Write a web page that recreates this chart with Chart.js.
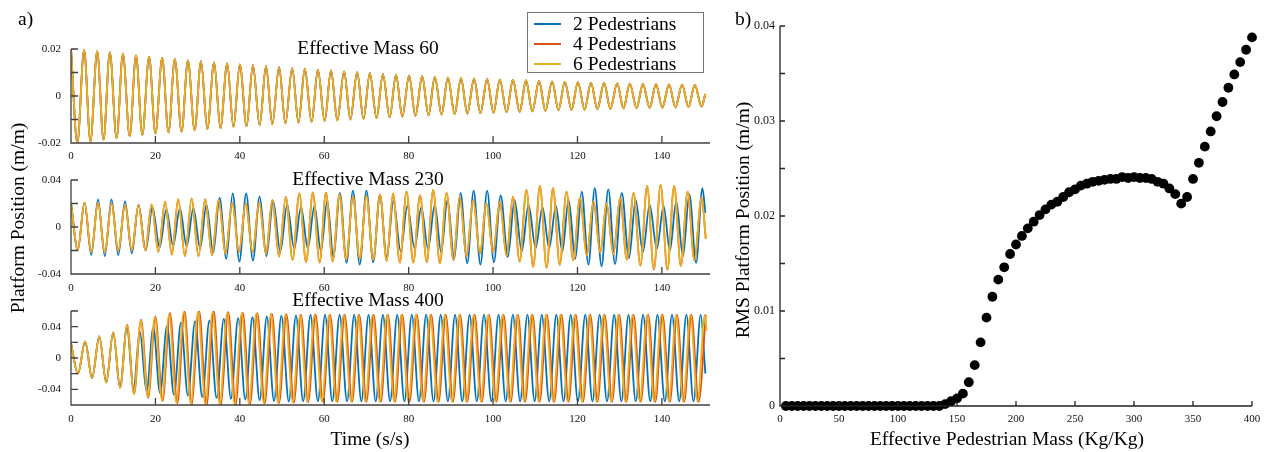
<!DOCTYPE html>
<html>
<head>
<meta charset="utf-8">
<script src="https://cdn.jsdelivr.net/npm/chart.js@4.4.0/dist/chart.umd.min.js"></script>
<style>
  body { margin: 0; background: #fff; }
  #wrap { position: relative; width: 1268px; height: 452px; font-family: "Liberation Serif", "Times New Roman", serif; color: #000; }
  #wrap canvas { position: absolute; left: 0; top: 0; }
  .txt { position: absolute; white-space: nowrap; line-height: 1; font-size: 19.5px; }
  .mid { transform: translateX(-50%); }
  .rot { transform: translate(-50%, -50%) rotate(-90deg); }
  #legend { position: absolute; left: 527px; top: 12px; width: 177px; height: 61px; box-sizing: border-box; border: 1.5px solid #777; background: #fff; }
  .swatch { position: absolute; left: 534px; width: 27px; height: 2px; }
  .ltxt { position: absolute; left: 573px; font-size: 19.5px; line-height: 1; white-space: nowrap; }
</style>
</head>
<body>
<div id="wrap">
  <canvas id="m60" width="1268" height="452"></canvas>
  <canvas id="m230" width="1268" height="452"></canvas>
  <canvas id="m400" width="1268" height="452"></canvas>
  <canvas id="rms" width="1268" height="452"></canvas>

  <div class="txt" style="left:18px;top:8.7px;">a)</div>
  <div class="txt" style="left:735px;top:8.7px;">b)</div>
  <div class="txt mid" style="left:368px;top:37.7px;">Effective Mass 60</div>
  <div class="txt mid" style="left:368px;top:168.7px;">Effective Mass 230</div>
  <div class="txt mid" style="left:368px;top:290.2px;">Effective Mass 400</div>
  <div class="txt mid" style="left:370px;top:428.7px;">Time (s/s)</div>
  <div class="txt mid" style="left:1007px;top:429.4px;">Effective Pedestrian Mass (Kg/Kg)</div>
  <div class="txt rot" style="left:18px;top:218px;">Platform Position (m/m)</div>
  <div class="txt rot" style="left:743px;top:220px;">RMS Platform Position (m/m)</div>

  <div id="legend"></div>
  <div class="swatch" style="top:23px;background:#0072BD;"></div>
  <div class="swatch" style="top:43px;background:#D95319;"></div>
  <div class="swatch" style="top:63px;background:#EDB120;"></div>
  <div class="ltxt" style="top:13.7px;">2 Pedestrians</div>
  <div class="ltxt" style="top:33.7px;">4 Pedestrians</div>
  <div class="ltxt" style="top:53.7px;">6 Pedestrians</div>
</div>

<script>
// ---- data: platform position extrema [time s, position m/m] ----

// effective mass 60: all three pedestrian cases coincide
const mass60 = [[0,.0200],[1.5,-.0200],[3.1,.0196],[4.6,-.0194],[6.2,.0191],[7.7,-.0186],[9.2,.0187],[10.8,-.0180],
  [12.3,.0180],[13.9,-.0172],[15.4,.0173],[16.9,-.0165],[18.5,.0167],[20.0,-.0159],[21.6,.0162],[23.1,-.0155],
  [24.6,.0157],[26.2,-.0151],[27.7,.0152],[29.3,-.0146],[30.8,.0148],[32.3,-.0141],[33.9,.0143],[35.4,-.0137],
  [37.0,.0139],[38.5,-.0133],[40.0,.0135],[41.6,-.0129],[43.1,.0131],[44.7,-.0125],[46.2,.0127],[47.7,-.0121],
  [49.3,.0123],[50.8,-.0117],[52.4,.0119],[53.9,-.0114],[55.4,.0116],[57.0,-.0111],[58.5,.0112],[60.1,-.0107],
  [61.6,.0109],[63.1,-.0104],[64.7,.0105],[66.2,-.0100],[67.8,.0101],[69.3,-.0097],[70.8,.0097],[72.4,-.0094],
  [73.9,.0093],[75.5,-.0091],[77.0,.0090],[78.5,-.0088],[80.1,.0087],[81.6,-.0085],[83.2,.0084],[84.7,-.0082],
  [86.2,.0081],[87.8,-.0079],[89.3,.0078],[90.9,-.0077],[92.4,.0076],[93.9,-.0075],[95.5,.0074],[97.0,-.0073],
  [98.6,.0072],[100.1,-.0071],[101.6,.0070],[103.2,-.0069],[104.7,.0068],[106.3,-.0067],[107.8,.0066],[109.3,-.0065],
  [110.9,.0064],[112.4,-.0063],[114.0,.0062],[115.5,-.0061],[117.0,.0060],[118.6,-.0059],[120.1,.0059],[121.7,-.0058],
  [123.2,.0057],[124.7,-.0056],[126.3,.0056],[127.8,-.0055],[129.4,.0054],[130.9,-.0053],[132.4,.0053],[134.0,-.0052],
  [135.5,.0051],[137.1,-.0050],[138.6,.0050],[140.1,-.0049],[141.7,.0049],[143.2,-.0048],[144.8,.0048],[146.3,-.0047],
  [147.8,.0047],[149.4,-.0045],[150.3,.0009]];

// effective mass 230: 4 and 6 pedestrians overlap, 2 pedestrians beats against them
const mass230ped4 = [[0,.0200],[1.6,-.0196],[3.2,.0207],[4.8,-.0215],[6.4,.0207],[8.0,-.0218],[9.6,.0202],[11.2,-.0205],
  [12.8,.0190],[14.4,-.0197],[16.0,.0187],[17.6,-.0198],[19.1,.0193],[20.7,-.0212],[22.3,.0216],[23.9,-.0234],
  [25.4,.0236],[27.0,-.0248],[28.6,.0244],[30.2,-.0250],[31.8,.0238],[33.4,-.0242],[35.0,.0230],[36.6,-.0228],
  [38.2,.0210],[39.8,-.0214],[41.4,.0202],[43.0,-.0214],[44.6,.0210],[46.2,-.0228],[47.7,.0230],[49.3,-.0252],
  [50.9,.0258],[52.5,-.0280],[54.1,.0287],[55.7,-.0299],[57.3,.0295],[58.9,-.0302],[60.4,.0292],[62.0,-.0293],
  [63.6,.0278],[65.2,-.0276],[66.8,.0258],[68.4,-.0269],[70.0,.0264],[71.6,-.0279],[73.2,.0278],[74.8,-.0290],
  [76.3,.0287],[77.9,-.0302],[79.5,.0300],[81.1,-.0303],[82.7,.0272],[84.3,-.0300],[85.8,.0315],[87.4,-.0310],
  [89.0,.0290],[90.6,-.0283],[92.1,.0260],[93.7,-.0253],[95.3,.0230],[96.9,-.0226],[98.4,.0205],[100.0,-.0218],
  [101.6,.0215],[103.2,-.0245],[104.7,.0258],[106.3,-.0295],[107.9,.0315],[109.5,-.0340],[111.1,.0349],[112.7,-.0348],
  [114.2,.0330],[115.8,-.0323],[117.4,.0300],[119.0,-.0283],[120.6,.0250],[122.2,-.0243],[123.8,.0220],[125.4,-.0218],
  [126.9,.0200],[128.5,-.0233],[130.1,.0250],[131.7,-.0278],[133.3,.0290],[134.9,-.0328],[136.5,.0350],[138.1,-.0363],
  [139.7,.0360],[141.3,-.0363],[142.9,.0350],[144.5,-.0333],[146.1,.0300],[147.7,-.0283],[149.4,.0250],[150.4,-.0100]];
const mass230ped6 = mass230ped4;
const mass230ped2 = [[0,.0200],[1.6,-.0196],[3.2,.0207],[4.8,-.0238],[6.4,.0235],[8.0,-.0247],[9.6,.0235],[11.2,-.0240],
  [12.8,.0220],[14.4,-.0225],[16.0,.0190],[17.7,-.0200],[19.3,.0170],[21.0,-.0175],[22.6,.0150],[24.2,-.0160],
  [25.8,.0160],[27.4,-.0165],[29.0,.0160],[30.6,-.0180],[32.1,.0190],[33.7,-.0220],[35.2,.0250],[36.8,-.0270],
  [38.3,.0285],[39.9,-.0295],[41.5,.0285],[43.1,-.0285],[44.7,.0260],[46.3,-.0250],[47.9,.0220],[49.6,-.0210],
  [51.2,.0190],[52.9,-.0185],[54.5,.0170],[56.1,-.0180],[57.7,.0180],[59.2,-.0205],[60.7,.0220],[62.2,-.0260],
  [63.7,.0290],[65.3,-.0305],[66.8,.0310],[68.4,-.0320],[70.0,.0310],[71.6,-.0300],[73.2,.0270],[74.8,-.0255],
  [76.4,.0220],[78.1,-.0205],[79.7,.0180],[81.4,-.0180],[83.0,.0170],[84.6,-.0185],[86.2,.0190],[87.7,-.0215],
  [89.2,.0230],[90.8,-.0270],[92.3,.0290],[93.9,-.0310],[95.4,.0310],[97.0,-.0320],[98.6,.0310],[100.2,-.0300],
  [101.8,.0270],[103.5,-.0255],[105.1,.0230],[106.8,-.0210],[108.4,.0190],[110.1,-.0180],[111.7,.0170],[113.3,-.0180],
  [114.9,.0180],[116.4,-.0210],[117.9,.0230],[119.5,-.0270],[121.0,.0300],[122.6,-.0320],[124.1,.0330],[125.7,-.0335],
  [127.3,.0320],[128.9,-.0315],[130.5,.0290],[132.2,-.0265],[133.8,.0230],[135.5,-.0215],[137.1,.0190],[138.8,-.0185],
  [140.4,.0180],[141.9,-.0200],[143.4,.0220],[145.0,-.0250],[146.5,.0280],[148.1,-.0305],[149.6,.0330],[150.3,.0120]];

// effective mass 400: all three saturate, 2 pedestrians leads in phase
const mass400ped2 = [[0,.0190],[1.65,-.0200],[3.35,.0210],[5.0,-.0256],[6.7,.0277],[8.35,-.0310],[10.0,.0328],[11.6,-.0375],
  [13.25,.0390],[14.8,-.0400],[16.3,.0340],[17.9,-.0430],[19.5,.0390],[21.1,-.0450],[22.75,.0410],[24.4,-.0470],
  [26.05,.0450],[27.7,-.0480],[29.4,.0470],[31.1,-.0500],[32.8,.0480],[34.5,-.0510],[36.2,.0500],[37.9,-.0520],
  [39.6,.0510],[41.3,-.0530],[43.0,.0520],[44.7,-.0540],[46.4,.0530],[48.1,-.0550],[49.85,.0540],[51.6,-.0555],
  [53.3,.0545],[55.0,-.0555],[56.75,.0553],[58.5,-.0555],[60.2,.0553],[61.9,-.0555],[63.65,.0553],[65.4,-.0555],
  [67.1,.0553],[68.8,-.0555],[70.5,.0553],[72.2,-.0555],[73.9,.0553],[75.6,-.0555],[77.3,.0553],[79.0,-.0555],
  [80.75,.0553],[82.45,-.0555],[84.15,.0553],[85.9,-.0555],[87.6,.0553],[89.3,-.0555],[91.0,.0553],[92.7,-.0555],
  [94.45,.0553],[96.15,-.0555],[97.85,.0553],[99.6,-.0555],[101.3,.0553],[103.0,-.0555],[104.7,.0553],[106.4,-.0555],
  [108.15,.0553],[109.85,-.0555],[111.55,.0553],[113.3,-.0555],[115.0,.0553],[116.7,-.0555],[118.4,.0553],[120.1,-.0555],
  [121.85,.0553],[123.55,-.0555],[125.25,.0553],[127.0,-.0555],[128.7,.0553],[130.4,-.0555],[132.1,.0553],[133.8,-.0555],
  [135.55,.0553],[137.25,-.0555],[138.95,.0553],[140.7,-.0555],[142.4,.0553],[144.1,-.0555],[145.8,.0553],[147.5,-.0555],
  [149.2,.0553],[150.3,-.0200]];
const mass400ped4 = [[0,.0190],[1.65,-.0200],[3.35,.0210],[5.0,-.0256],[6.7,.0277],[8.35,-.0310],[10.0,.0328],[11.65,-.0380],
  [13.3,.0426],[14.95,-.0460],[16.6,.0490],[18.3,-.0510],[20.0,.0530],[21.7,-.0550],[23.45,.0575],[25.2,-.0580],
  [26.9,.0596],[28.6,-.0605],[30.35,.0605],[32.1,-.0610],[33.8,.0600],[35.5,-.0605],[37.25,.0588],[39.0,-.0600],
  [40.7,.0580],[42.4,-.0590],[44.15,.0572],[45.9,-.0580],[47.6,.0565],[49.3,-.0575],[51.05,.0560],[52.8,-.0570],
  [54.5,.0555],[56.2,-.0565],[57.95,.0555],[59.7,-.0560],[61.4,.0555],[63.1,-.0560],[64.85,.0555],[66.6,-.0560],
  [68.3,.0555],[70.0,-.0560],[71.7,.0555],[73.4,-.0560],[75.1,.0555],[76.8,-.0560],[78.5,.0555],[80.2,-.0560],
  [81.95,.0555],[83.65,-.0560],[85.35,.0555],[87.1,-.0560],[88.8,.0555],[90.5,-.0560],[92.2,.0555],[93.9,-.0560],
  [95.65,.0555],[97.35,-.0560],[99.05,.0555],[100.8,-.0560],[102.5,.0555],[104.2,-.0560],[105.9,.0555],[107.6,-.0560],
  [109.35,.0555],[111.05,-.0560],[112.75,.0555],[114.5,-.0560],[116.2,.0555],[117.9,-.0560],[119.6,.0555],[121.3,-.0560],
  [123.05,.0555],[124.75,-.0560],[126.45,.0555],[128.2,-.0560],[129.9,.0555],[131.6,-.0560],[133.3,.0555],[135.0,-.0560],
  [136.75,.0555],[138.45,-.0560],[140.15,.0555],[141.9,-.0560],[143.6,.0555],[145.3,-.0560],[147.0,.0555],[148.7,-.0560],
  [150.4,.0550]];
const mass400ped6 = [[0,.0190],[1.65,-.0200],[3.35,.0210],[5.0,-.0256],[6.7,.0277],[8.35,-.0310],[10.0,.0328],[11.65,-.0380],
  [13.3,.0420],[14.9,-.0455],[16.5,.0480],[18.2,-.0500],[19.85,.0520],[21.55,-.0540],[23.25,.0560],[24.95,-.0570],
  [26.7,.0585],[28.4,-.0595],[30.1,.0595],[31.85,-.0600],[33.55,.0590],[35.25,-.0600],[37.0,.0580],[38.75,-.0592],
  [40.45,.0575],[42.15,-.0585],[43.9,.0570],[45.65,-.0578],[47.35,.0565],[49.05,-.0575],[50.8,.0560],[52.55,-.0570],
  [54.25,.0555],[55.95,-.0565],[57.7,.0555],[59.45,-.0560],[61.15,.0555],[62.85,-.0560],[64.6,.0555],[66.35,-.0560],
  [68.05,.0555],[69.75,-.0560],[71.45,.0555],[73.15,-.0560],[74.85,.0555],[76.55,-.0560],[78.25,.0555],[79.95,-.0560],
  [81.7,.0555],[83.4,-.0560],[85.1,.0555],[86.85,-.0560],[88.55,.0555],[90.25,-.0560],[91.95,.0555],[93.65,-.0560],
  [95.4,.0555],[97.1,-.0560],[98.8,.0555],[100.55,-.0560],[102.25,.0555],[103.95,-.0560],[105.65,.0555],[107.35,-.0560],
  [109.1,.0555],[110.8,-.0560],[112.5,.0555],[114.25,-.0560],[115.95,.0555],[117.65,-.0560],[119.35,.0555],[121.05,-.0560],
  [122.8,.0555],[124.5,-.0560],[126.2,.0555],[127.95,-.0560],[129.65,.0555],[131.35,-.0560],[133.05,.0555],[134.75,-.0560],
  [136.5,.0555],[138.2,-.0560],[139.9,.0555],[141.65,-.0560],[143.35,.0555],[145.05,-.0560],[146.75,.0555],[148.45,-.0560],
  [150.15,.0553],[150.6,.0350]];

// panel b: RMS platform position vs effective pedestrian mass
const pedMass = [5,10,15,20,25,30,35,40,45,50,55,60,65,70,75,80,85,90,95,100,
  105,110,115,120,125,130,135,140,145,150,155,160,165,170,175,180,185,190,195,200,
  205,210,215,220,225,230,235,240,245,250,255,260,265,270,275,280,285,290,295,300,
  305,310,315,320,325,330,335,340,345,350,355,360,365,370,375,380,385,390,395,400];
const rmsPos = [0,0,0,0,0,0,0,0,0,0,0,0,0,0,0,0,0,0,0,0,
  0,0,0,0,0,0,0,.0002,.0005,.0008,.0013,.0025,.0043,.0067,.0093,.0115,.0133,.0146,.0160,.0170,
  .0179,.0187,.0194,.0201,.0207,.0212,.0215,.0220,.0225,.0228,.0232,.0234,.0236,.0237,.0238,.0239,.0239,.0241,.0240,.0241,
  .0240,.0240,.0239,.0236,.0234,.0229,.0223,.0213,.0220,.0239,.0256,.0273,.0289,.0305,.0320,.0335,.0349,.0362,.0375,.0388];

const BLUE = '#0072BD', ORANGE = '#D95319', YELLOW = '#EDB120';
const W = 1268, H = 452;
const tickFont = { family: 'Liberation Serif', size: 11 };

// inward tick marks and the two axis lines, drawn from the chart's own scales
const axesPlugin = {
  id: 'axes',
  afterDatasetsDraw(chart, args, o) {
    const { ctx, chartArea: a, scales: { x, y } } = chart;
    ctx.save();
    ctx.strokeStyle = o.color;
    ctx.lineWidth = 1.3;
    ctx.beginPath();
    ctx.moveTo(a.left, a.top);
    ctx.lineTo(a.left, a.bottom);
    ctx.lineTo(a.right, a.bottom);
    x.ticks.forEach(t => {
      const px = x.getPixelForValue(t.value);
      ctx.moveTo(px, a.bottom);
      ctx.lineTo(px, a.bottom - o.len);
    });
    y.ticks.forEach(t => {
      const py = y.getPixelForValue(t.value);
      ctx.moveTo(a.left, py);
      ctx.lineTo(a.left + o.len, py);
    });
    ctx.stroke();
    ctx.restore();
  }
};

function fmt(v) {
  const r = Math.round(v * 1000) / 1000;
  return r === 0 ? '0' : String(r);
}

function toXY(pts) {
  return pts.map(p => ({ x: p[0], y: p[1] }));
}

function timePanel(id, top, bottom, yMax, yStep, xPad, series) {
  new Chart(document.getElementById(id), {
    type: 'line',
    data: {
      datasets: series.map(s => ({
        data: toXY(s.pts),
        borderColor: s.color,
        borderWidth: 1.8,
        pointRadius: 0,
        cubicInterpolationMode: 'monotone',
        order: s.order
      }))
    },
    options: {
      responsive: false,
      animation: false,
      events: [],
      layout: { padding: { left: 0, top: top, right: W - 710, bottom: H - bottom - 24 } },
      plugins: { legend: { display: false }, tooltip: { enabled: false }, axes: { len: 7, color: '#404040' } },
      scales: {
        x: {
          type: 'linear', min: 0, max: 151.4,
          grid: { display: false, drawTicks: false }, border: { display: false },
          ticks: { stepSize: 20, includeBounds: false, maxRotation: 0, autoSkip: false, padding: xPad, color: '#111', font: tickFont },
          afterFit: s => { s.height = 24; }
        },
        y: {
          min: -yMax, max: yMax,
          grid: { display: false, drawTicks: false }, border: { display: false },
          ticks: {
            stepSize: yStep, includeBounds: false, autoSkip: false, padding: 10, color: '#111', font: tickFont,
            callback: v => Math.abs(Math.round(v / yStep)) % 2 === 0 ? fmt(v) : ''
          },
          afterFit: s => { s.width = 71; }
        }
      }
    },
    plugins: [axesPlugin]
  });
}

timePanel('m60', 49, 143, 0.02, 0.01, 6.5, [
  { pts: mass60, color: BLUE, order: 2 },
  { pts: mass60, color: ORANGE, order: 1 },
  { pts: mass60, color: YELLOW, order: 0 }
]);
timePanel('m230', 180, 274, 0.04, 0.02, 8, [
  { pts: mass230ped2, color: BLUE, order: 2 },
  { pts: mass230ped4, color: ORANGE, order: 1 },
  { pts: mass230ped6, color: YELLOW, order: 0 }
]);
timePanel('m400', 311, 405, 0.06, 0.02, 8, [
  { pts: mass400ped2, color: BLUE, order: 2 },
  { pts: mass400ped4, color: ORANGE, order: 1 },
  { pts: mass400ped6, color: YELLOW, order: 0 }
]);

new Chart(document.getElementById('rms'), {
  type: 'scatter',
  data: {
    datasets: [{
      data: pedMass.map((m, i) => ({ x: m, y: rmsPos[i] })),
      backgroundColor: '#000',
      borderWidth: 0,
      pointRadius: 4.9,
      clip: false
    }]
  },
  options: {
    responsive: false,
    animation: false,
    events: [],
    layout: { padding: { left: 730, top: 26, right: W - 1252, bottom: H - 406 - 20 } },
    plugins: { legend: { display: false }, tooltip: { enabled: false }, axes: { len: 5, color: '#222' } },
    scales: {
      x: {
        type: 'linear', min: 0, max: 400,
        grid: { display: false, drawTicks: false }, border: { display: false },
        ticks: { stepSize: 50, maxRotation: 0, autoSkip: false, padding: 7, color: '#111', font: tickFont },
        afterFit: s => { s.height = 20; }
      },
      y: {
        min: 0, max: 0.04,
        grid: { display: false, drawTicks: false }, border: { display: false },
        ticks: {
          stepSize: 0.005, autoSkip: false, padding: 5, color: '#111', font: { family: 'Liberation Serif', size: 12 },
          callback: v => Math.round(v / 0.005) % 2 === 0 ? fmt(v) : ''
        },
        afterFit: s => { s.width = 50; }
      }
    }
  },
  plugins: [axesPlugin]
});
</script>
</body>
</html>
